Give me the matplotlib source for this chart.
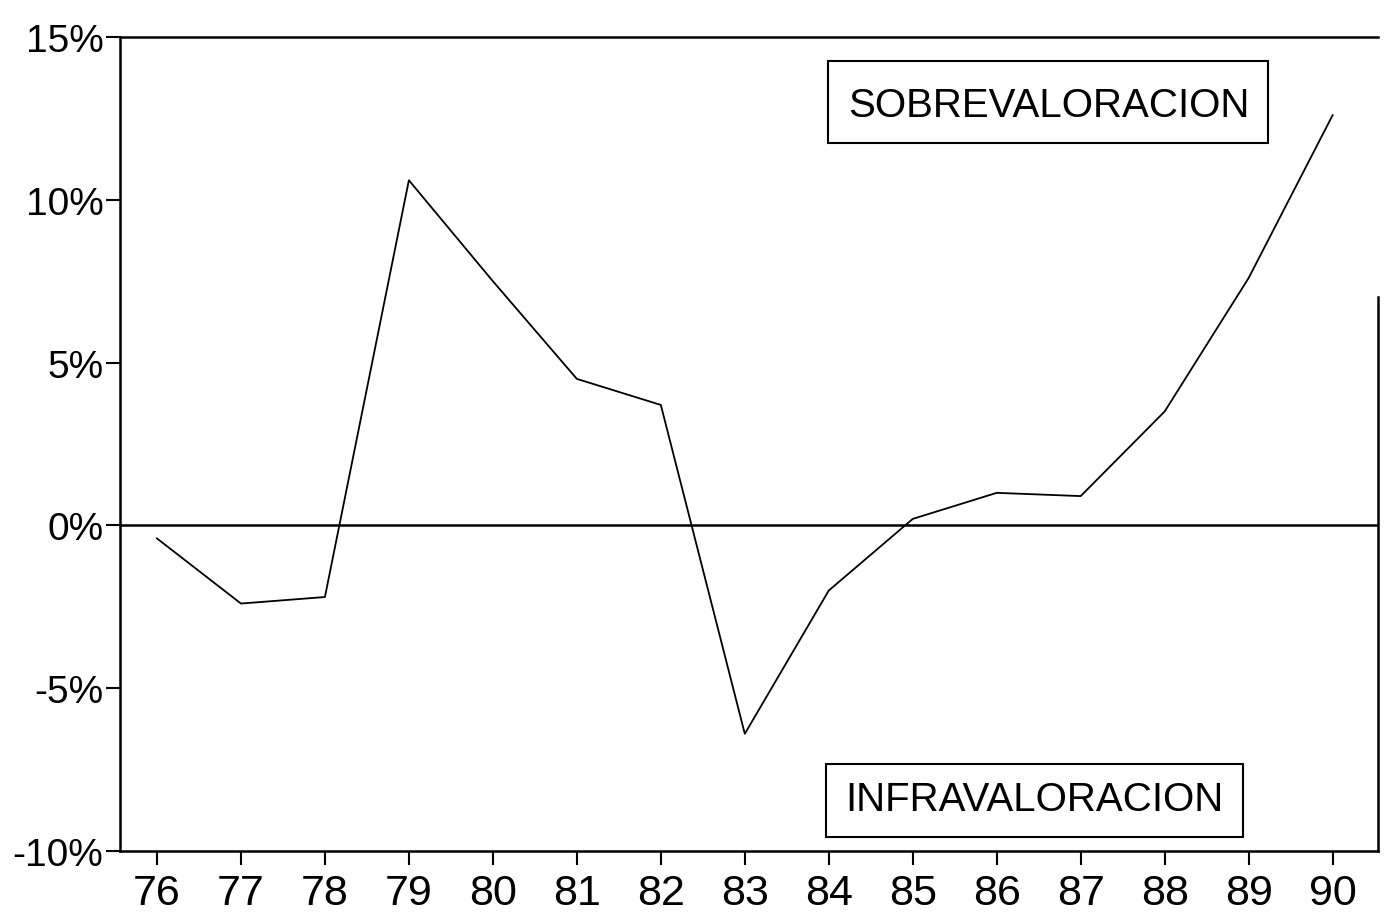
import matplotlib
matplotlib.use('Agg')
import matplotlib.pyplot as plt
from matplotlib.patches import Rectangle

# years (two digit) and over/under valuation in percent
years = [76, 77, 78, 79, 80, 81, 82, 83, 84, 85, 86, 87, 88, 89, 90]
valuation = [-0.4, -2.4, -2.2, 10.6, 7.5, 4.5, 3.7, -6.4, -2.0, 0.2, 1.0, 0.9, 3.5, 7.6, 12.6]

y_ticks = [-10, -5, 0, 5, 10, 15]
y_labels = ['-10%', '-5%', '0%', '5%', '10%', '15%']
x_labels = [str(y) for y in years]

plt.rcParams['font.family'] = ['Liberation Sans', 'DejaVu Sans']

fig = plt.figure(figsize=(13.84, 9.2), dpi=100)
ax = fig.add_axes([120 / 1384, 1 - 852 / 920, 1258 / 1384, 814 / 920])

ax.plot(years, valuation, color='black', linewidth=1.3)
ax.axhline(0, color='black', linewidth=1.8)

ax.set_xlim(75.56, 90.54)
ax.set_ylim(-10, 15)
ax.set_xticks(years)
ax.set_xticklabels(x_labels)
ax.set_yticks(y_ticks)
ax.set_yticklabels(y_labels)
ax.tick_params(axis='both', direction='out', length=10, width=1.5, colors='black')
ax.tick_params(axis='x', pad=6, labelsize=31)
ax.tick_params(axis='y', pad=2, labelsize=28)

for side in ['left', 'bottom', 'top', 'right']:
    ax.spines[side].set_linewidth(1.8)
ax.spines['right'].set_bounds(-10, 7)

# label boxes
ax.add_patch(Rectangle((0.5628, 0.8698), 0.3498, 0.1007, transform=ax.transAxes,
                       fill=False, edgecolor='black', linewidth=1.5))
ax.text(0.738, 0.917, 'SOBREVALORACION', transform=ax.transAxes,
        ha='center', va='center', fontsize=29)
ax.add_patch(Rectangle((0.5612, 0.0172), 0.3315, 0.0897, transform=ax.transAxes,
                       fill=False, edgecolor='black', linewidth=1.5))
ax.text(0.727, 0.064, 'INFRAVALORACION', transform=ax.transAxes,
        ha='center', va='center', fontsize=29)

fig.savefig('out.png', dpi=100)
plt.close(fig)
